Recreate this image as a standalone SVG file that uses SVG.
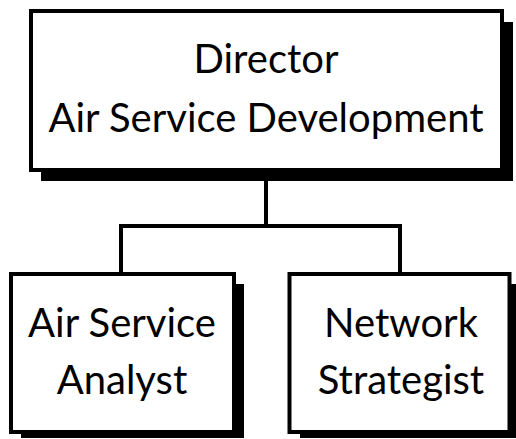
<svg xmlns="http://www.w3.org/2000/svg" width="516" height="439" viewBox="0 0 516 439">
<style>
.box{fill:#fff;stroke:#000;stroke-width:4}
.shadow{fill:#000}
.t{font-family:Lato,"Liberation Sans",sans-serif;font-size:40px;fill:#000;text-anchor:middle}
.c{fill:none;stroke:#000;stroke-width:4}
</style>
<rect width="516" height="439" fill="#fff"/>
<g id="connectors">
<path class="c" d="M266,172 V226 M121,226 H400 M121,224 V274 M400,224 V274"/>
</g>
<g id="director">
<rect class="shadow" x="41" y="22" width="472" height="159"/>
<rect class="box" x="31" y="11" width="471" height="159"/>
<text class="t" x="266" y="73">Director</text>
<text class="t" x="266" y="132">Air Service Development</text>
</g>
<g id="analyst">
<rect class="shadow" x="21" y="284" width="223" height="154"/>
<rect class="box" x="11" y="274" width="223" height="158"/>
<text class="t" x="122" y="337">Air Service</text>
<text class="t" x="122" y="394">Analyst</text>
</g>
<g id="strategist">
<rect class="shadow" x="300" y="284" width="219" height="154"/>
<rect class="box" x="289.5" y="274" width="220" height="158"/>
<text class="t" x="401" y="337">Network</text>
<text class="t" x="401" y="394">Strategist</text>
</g>
</svg>
